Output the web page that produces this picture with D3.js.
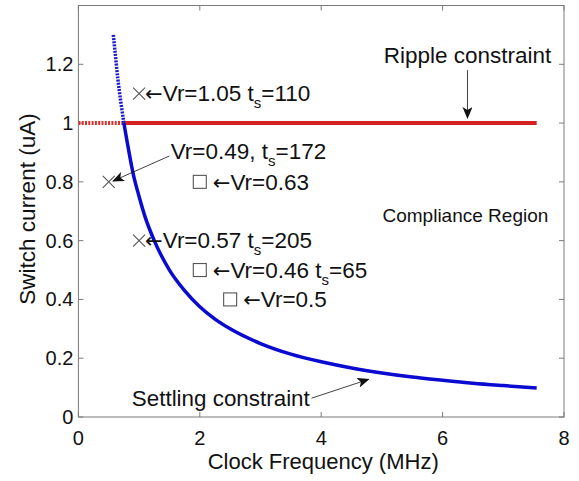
<!DOCTYPE html>
<html>
<head>
<meta charset="utf-8">
<script src="https://cdn.jsdelivr.net/npm/d3@7/dist/d3.min.js"></script>
<style>
  html, body { margin: 0; padding: 0; background: #fff; }
  svg { display: block; }
  text { font-family: "Liberation Sans", Arial, sans-serif; fill: #111; }
</style>
</head>
<body>
<svg id="chart" width="579" height="481"></svg>
<script>
// ---------------- data ----------------
const xTicks = [0, 2, 4, 6, 8];
const yTicks = [0, 0.2, 0.4, 0.6, 0.8, 1, 1.2];
const xTickLabels = ["0", "2", "4", "6", "8"];
const yTickLabels = ["0", "0.2", "0.4", "0.6", "0.8", "1", "1.2"];

// settling constraint (blue)
const settlingF = [0.575, 0.6, 0.65, 0.7, 0.75, 0.8, 0.9, 1.0, 1.1, 1.25, 1.5, 1.75, 2, 2.25, 2.5, 3, 3.5, 4, 4.5, 5, 5.5, 6, 6.5, 7, 7.55];
const settlingI = [1.30, 1.25, 1.15, 1.07, 1.0, 0.94, 0.83, 0.75, 0.68, 0.60, 0.50, 0.43, 0.375, 0.333, 0.30, 0.25, 0.214, 0.188, 0.167, 0.15, 0.136, 0.125, 0.115, 0.107, 0.099];
// ripple constraint (red)
const rippleF = [0, 7.55];
const rippleI = [1, 1];
const crossoverF = 0.75;

// markers
const crossF = [1.0, 0.5, 1.0];
const crossI = [1.1, 0.8, 0.6];
const squareF = [2.0, 2.0, 2.5];
const squareI = [0.8, 0.5, 0.4];

// marker annotations (text right of marker)
const crossLabels = [
  ["Vr=1.05 t", "s", "=110"],
  null,
  ["Vr=0.57 t", "s", "=205"]
];
const squareLabels = [
  ["Vr=0.63", "", ""],
  ["Vr=0.46 t", "s", "=65"],
  ["Vr=0.5", "", ""]
];
// free annotation for the cross at (0.5, 0.8)
const note2 = { x: 1.52, y: 0.897, parts: ["Vr=0.49, t", "s", "=172"], from: [1.50, 0.888], to: [0.57, 0.803] };

const textLabels = [
  { x: 5.03, y: 1.204, text: "Ripple constraint", size: 22.5 },
  { x: 5.01, y: 0.664, text: "Compliance Region", size: 19 },
  { x: 0.88, y: 0.037, text: "Settling constraint", size: 22.4 }
];
const arrows = [
  { from: [6.41, 1.18], to: [6.41, 1.017] },
  { from: [3.84, 0.064], to: [4.78, 0.128] }
];

const xLabel = "Clock Frequency (MHz)";
const yLabel = "Switch current (uA)";

// ---------------- layout ----------------
const svg = d3.select("#chart");
const L = 78.4, R = 564, T = 5.5, B = 417;
const x = d3.scaleLinear().domain([0, 8]).range([L, R]);
const y = d3.scaleLinear().domain([0, 1.4]).range([B, T]);

const axisColor = "#7a7a7a";
const tickFont = 20;

const defs = svg.append("defs");
defs.append("marker")
  .attr("id", "head").attr("viewBox", "0 0 12 10")
  .attr("refX", 11).attr("refY", 5)
  .attr("markerWidth", 12).attr("markerHeight", 10)
  .attr("markerUnits", "userSpaceOnUse")
  .attr("orient", "auto")
  .append("path").attr("d", "M0,0 L12,5 L0,10 L3,5 Z").attr("fill", "#111");

defs.append("clipPath").attr("id", "clipBelow1")
  .append("rect").attr("x", L).attr("y", y(1)).attr("width", R - L).attr("height", B - y(1));
defs.append("clipPath").attr("id", "clipRight")
  .append("rect").attr("x", x(crossoverF)).attr("y", T).attr("width", R - x(crossoverF)).attr("height", B - T);
defs.append("clipPath").attr("id", "clipAbove1")
  .append("rect").attr("x", L).attr("y", T).attr("width", R - L).attr("height", y(1) - T);
defs.append("clipPath").attr("id", "clipLeft")
  .append("rect").attr("x", L).attr("y", T).attr("width", x(crossoverF) - L).attr("height", B - T);

// axes box
svg.append("rect").attr("x", L).attr("y", T).attr("width", R - L).attr("height", B - T)
  .attr("fill", "none").attr("stroke", axisColor).attr("stroke-width", 1);

// ticks (inside, all four sides)
const tk = 5;
const gT = svg.append("g").attr("stroke", axisColor).attr("stroke-width", 1);
xTicks.forEach(v => {
  gT.append("line").attr("x1", x(v)).attr("x2", x(v)).attr("y1", B).attr("y2", B - tk);
  gT.append("line").attr("x1", x(v)).attr("x2", x(v)).attr("y1", T).attr("y2", T + tk);
});
yTicks.forEach(v => {
  gT.append("line").attr("x1", L).attr("x2", L + tk).attr("y1", y(v)).attr("y2", y(v));
  gT.append("line").attr("x1", R).attr("x2", R - tk).attr("y1", y(v)).attr("y2", y(v));
});

// tick labels
xTicks.forEach((v, i) => {
  svg.append("text").attr("x", x(v)).attr("y", B + 28).attr("text-anchor", "middle")
    .attr("font-size", tickFont).text(xTickLabels[i]);
});
yTicks.forEach((v, i) => {
  svg.append("text").attr("x", L - 5).attr("y", y(v) + 7).attr("text-anchor", "end")
    .attr("font-size", tickFont).text(yTickLabels[i]);
});

// axis labels
svg.append("text").attr("x", (L + R) / 2 + 2).attr("y", 469).attr("text-anchor", "middle")
  .attr("font-size", 22).text(xLabel);
svg.append("text").attr("transform", `translate(35,209) rotate(-90)`)
  .attr("text-anchor", "middle").attr("font-size", 22.5).text(yLabel);

// lines
const line = d3.line().x(d => x(d[0])).y(d => y(d[1])).curve(d3.curveMonotoneX);
const settling = settlingF.map((f, i) => [f, settlingI[i]]);
const ripple = rippleF.map((f, i) => [f, rippleI[i]]);

// red: dotted left of crossover, solid right of it
svg.append("path").datum(ripple).attr("d", line).attr("fill", "none")
  .attr("stroke", "#d8302c").attr("stroke-width", 4).attr("stroke-dasharray", "2,1.3")
  .attr("clip-path", "url(#clipLeft)");
svg.append("path").datum(ripple).attr("d", line).attr("fill", "none")
  .attr("stroke", "#d42222").attr("stroke-width", 4)
  .attr("clip-path", "url(#clipRight)");

// blue: dotted above 1, solid below
svg.append("path").datum(settling).attr("d", line).attr("fill", "none")
  .attr("stroke", "#1a1ad6").attr("stroke-width", 3.5).attr("stroke-dasharray", "2,1.2")
  .attr("clip-path", "url(#clipAbove1)");
svg.append("path").datum(settling).attr("d", line).attr("fill", "none")
  .attr("stroke", "#0a0ad0").attr("stroke-width", 3.5)
  .attr("clip-path", "url(#clipBelow1)");

// markers
const mk = svg.append("g").attr("stroke", "#555").attr("stroke-width", 1.1).attr("fill", "none");
const h = 6;
crossF.forEach((f, i) => {
  const cx = x(f), cy = y(crossI[i]);
  mk.append("path").attr("d", `M${cx - h},${cy - h}L${cx + h},${cy + h}M${cx - h},${cy + h}L${cx + h},${cy - h}`);
});
const s = 6.5;
squareF.forEach((f, i) => {
  mk.append("rect").attr("x", x(f) - s).attr("y", y(squareI[i]) - s).attr("width", 2 * s).attr("height", 2 * s);
});

// annotation text helper
const annFont = 22.5;
function rich(xp, yp, parts, withArrow) {
  const t = svg.append("text").attr("x", xp).attr("y", yp).attr("font-size", annFont);
  if (withArrow) t.append("tspan").attr("font-family", "DejaVu Sans").attr("font-size", 21).text("\u2190");
  t.append("tspan").text(parts[0]);
  if (parts[1]) {
    t.append("tspan").attr("font-size", 15).attr("dy", 7).text(parts[1]);
    t.append("tspan").attr("dy", -7).text(parts[2]);
  }
  return t;
}
crossF.forEach((f, i) => {
  if (crossLabels[i]) rich(x(f) + 6, y(crossI[i]) + 7, crossLabels[i], true);
});
squareF.forEach((f, i) => {
  rich(x(f) + 13, y(squareI[i]) + 8, squareLabels[i], true);
});
rich(x(note2.x), y(note2.y) + 6, note2.parts, false);
svg.append("line")
  .attr("x1", x(note2.from[0])).attr("y1", y(note2.from[1]))
  .attr("x2", x(note2.to[0])).attr("y2", y(note2.to[1]))
  .attr("stroke", "#111").attr("stroke-width", 0.8).attr("marker-end", "url(#head)");

// free text labels
textLabels.forEach(d => {
  svg.append("text").attr("x", x(d.x)).attr("y", y(d.y)).attr("font-size", d.size).text(d.text);
});
arrows.forEach(a => {
  svg.append("line")
    .attr("x1", x(a.from[0])).attr("y1", y(a.from[1]))
    .attr("x2", x(a.to[0])).attr("y2", y(a.to[1]))
    .attr("stroke", "#111").attr("stroke-width", 0.8).attr("marker-end", "url(#head)");
});
</script>
</body>
</html>
